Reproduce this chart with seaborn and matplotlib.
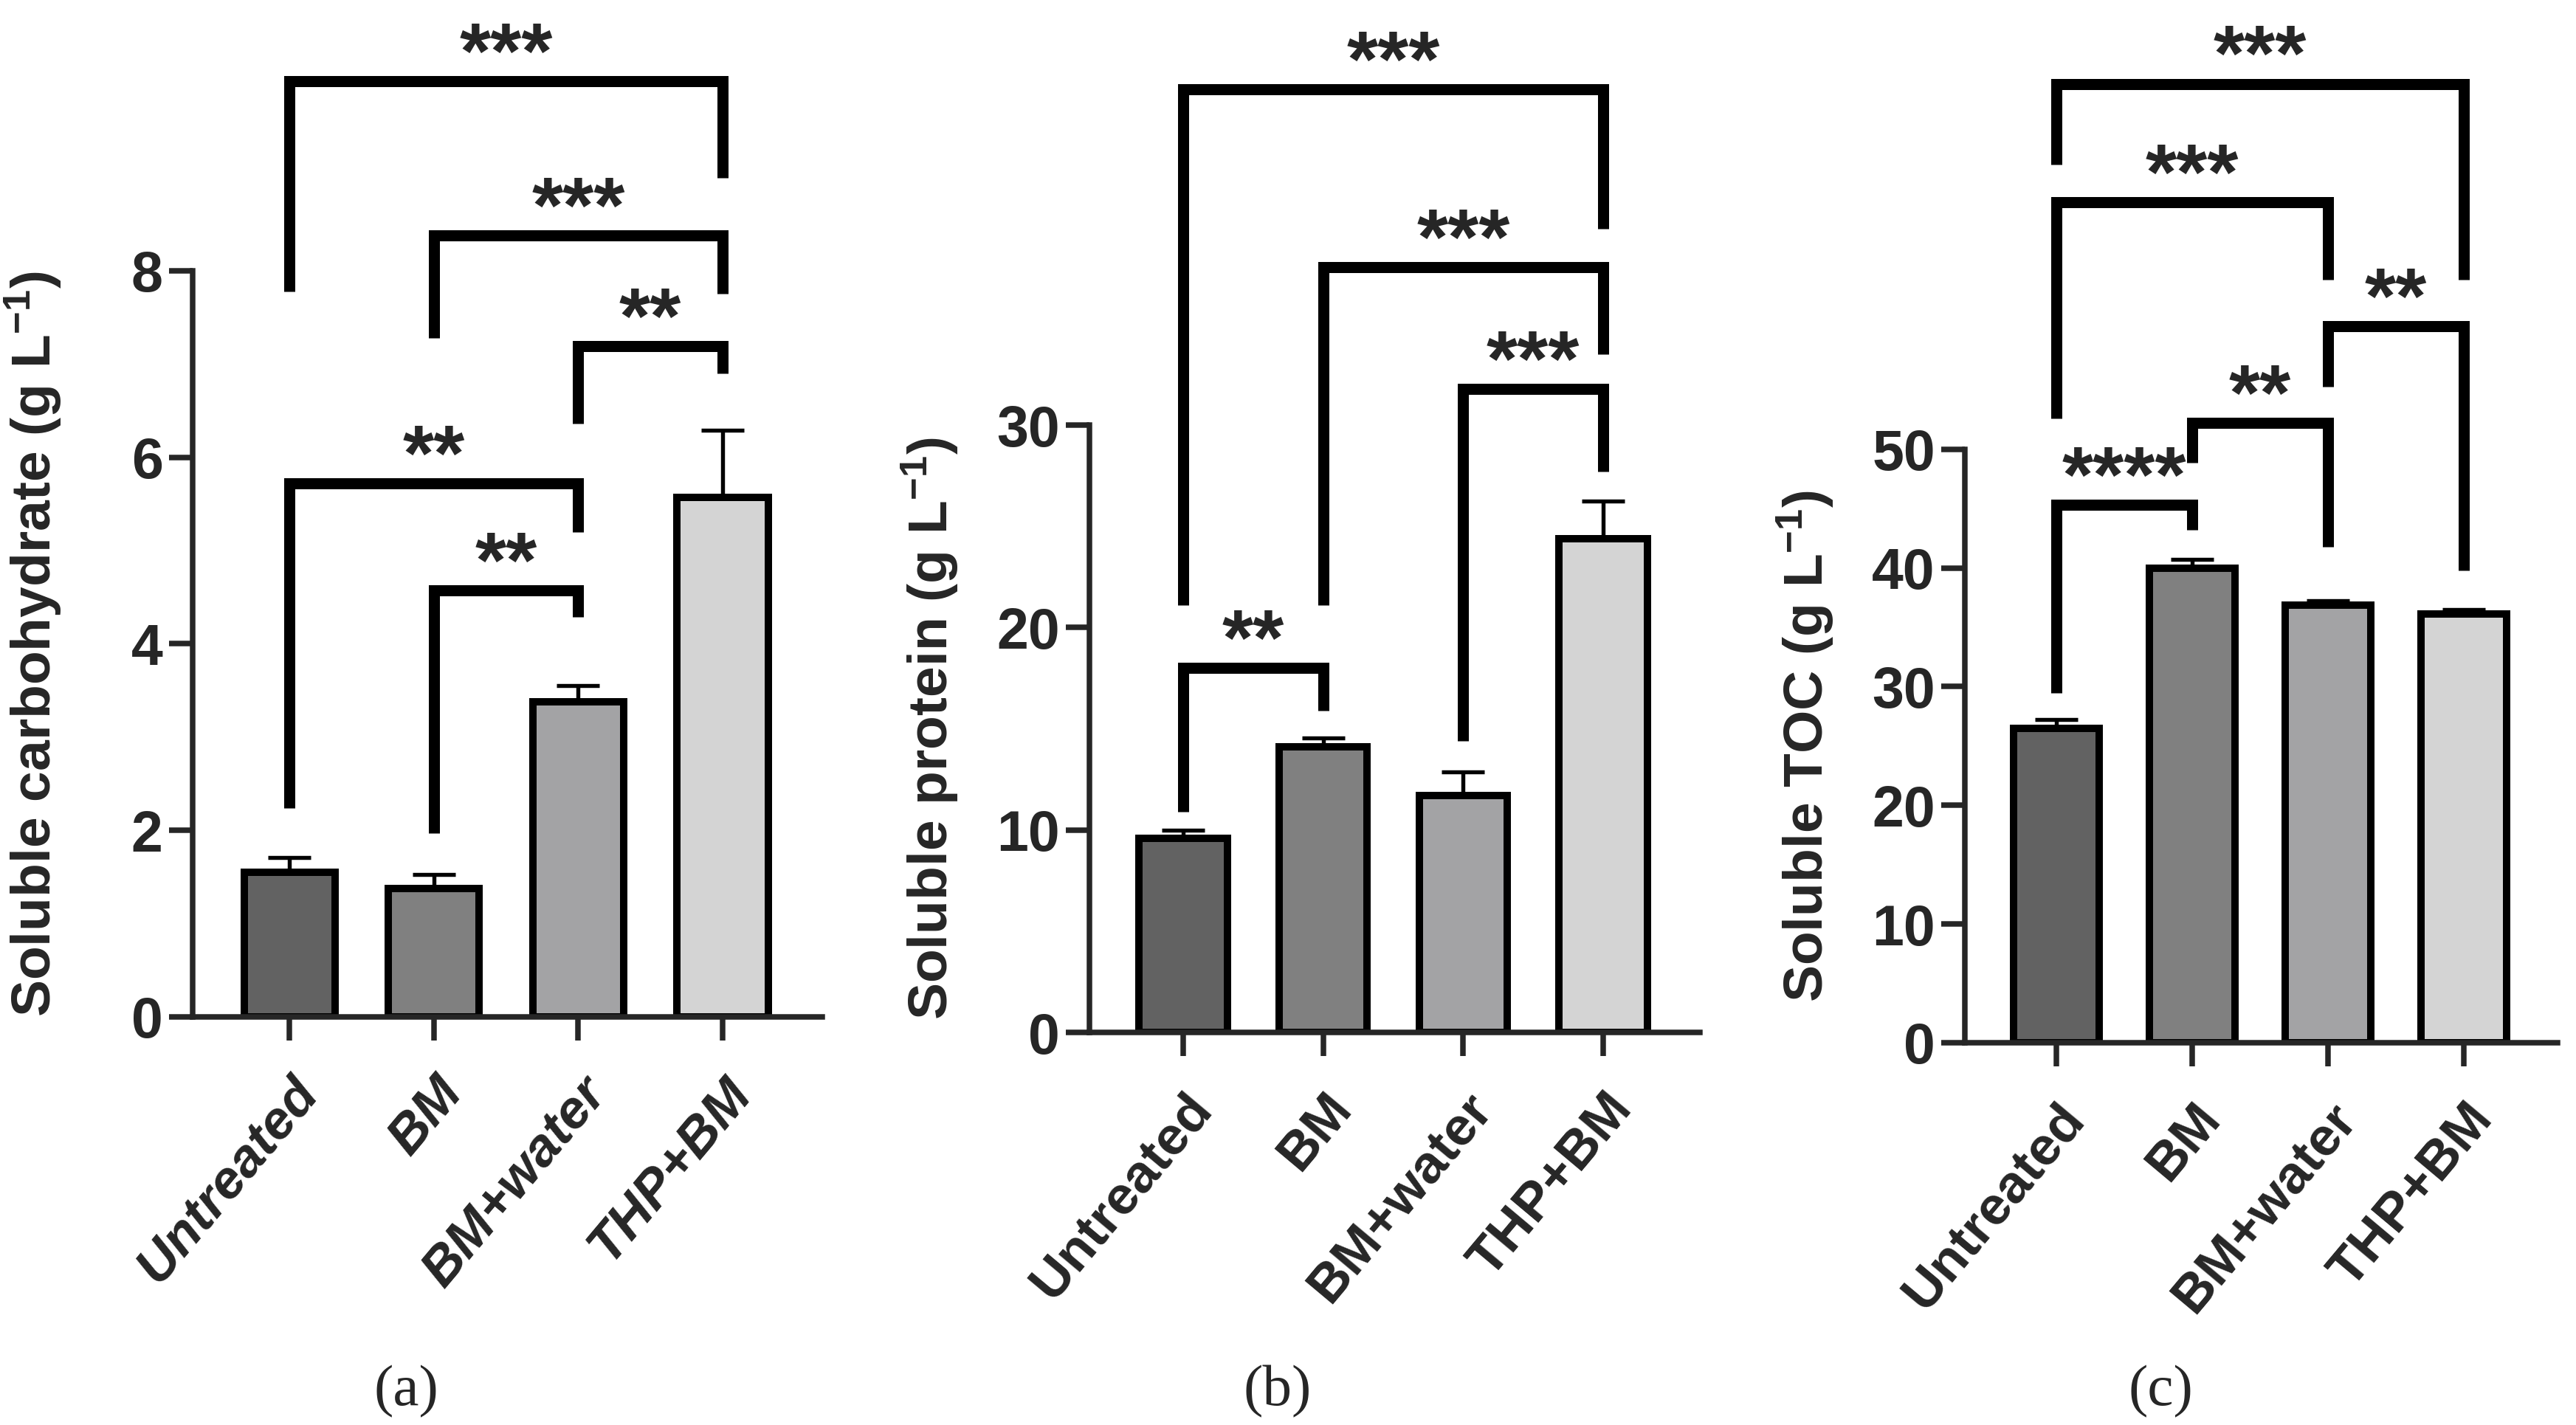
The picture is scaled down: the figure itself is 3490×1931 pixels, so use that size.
import matplotlib
matplotlib.use("Agg")
import matplotlib.pyplot as plt
import numpy as np
import pandas as pd
import seaborn as sns

groups = ['Untreated', 'BM', 'BM+water', 'THP+BM']
bar_colors = ['#626262', '#808080', '#a2a2a6', '#d4d4d4']

carb_mean = [1.55, 1.38, 3.38, 5.57]
carb_sd = [0.16, 0.15, 0.17, 0.72]
protein_mean = [9.6, 14.1, 11.7, 24.4]
protein_sd = [0.4, 0.45, 1.15, 1.85]
toc_mean = [26.5, 40.0, 36.9, 36.1]
toc_sd = [0.75, 0.75, 0.35, 0.4]

# significance brackets: (left group, right group, bracket top, left leg end, right leg end, stars)
carb_sig = [
    (0, 3, 10.03, 7.78, 9.0, '***'),
    (1, 3, 8.38, 7.28, 7.75, '***'),
    (2, 3, 7.19, 6.36, 6.9, '**'),
    (0, 2, 5.72, 2.24, 5.2, '**'),
    (1, 2, 4.57, 1.97, 4.29, '**'),
]
protein_sig = [
    (0, 3, 46.6, 21.1, 39.7, '***'),
    (1, 3, 37.8, 21.1, 33.5, '***'),
    (2, 3, 31.8, 14.4, 27.7, '***'),
    (0, 1, 18.0, 10.9, 15.9, '**'),
]
toc_sig = [
    (0, 3, 80.8, 74.0, 64.3, '***'),
    (0, 2, 70.8, 52.6, 64.3, '***'),
    (2, 3, 60.4, 55.3, 39.8, '**'),
    (1, 2, 52.2, 48.9, 41.8, '**'),
    (0, 1, 45.3, 29.5, 43.2, '****'),
]

sns.set_style("ticks")
plt.rcParams['font.family'] = ['Liberation Sans', 'DejaVu Sans']
plt.rcParams['mathtext.fontset'] = 'custom'
plt.rcParams['mathtext.rm'] = 'Liberation Sans:bold'
plt.rcParams['mathtext.bf'] = 'Liberation Sans:bold'
plt.rcParams['mathtext.default'] = 'bf'

W, H = 3490, 1931
fig = plt.figure(figsize=(W / 300, H / 300), dpi=300)


def draw_panel(pos, means, sds, sig, ylabel, ymax, ystep, italic, letter, letter_x):
    ax = fig.add_axes(pos)
    df = pd.DataFrame({'group': groups, 'value': means})
    sns.barplot(data=df, x='group', y='value', hue='group', palette=bar_colors,
                width=0.63, edgecolor='black', linewidth=2.4, errorbar=None,
                legend=False, ax=ax)
    n = len(groups)
    ax.errorbar(np.arange(n), means, yerr=[np.zeros(n), sds], fmt='none',
                ecolor='black', elinewidth=1.3, capsize=7, capthick=1.3, zorder=0.5)

    for i, j, top, left_end, right_end, stars in sig:
        ax.plot([i, i, j, j], [left_end, top, top, right_end], color='black', lw=3.6,
                clip_on=False, solid_joinstyle='miter', solid_capstyle='butt')
        ax.annotate(stars, xy=((i + j) / 2, top), xytext=(0, 1), textcoords='offset points',
                    ha='center', va='baseline', fontsize=26, fontweight='bold',
                    annotation_clip=False)

    ax.set_xlim(-0.67, 3.69)
    ax.set_ylim(0, ymax)
    ax.set_yticks(np.arange(0, ymax + 1e-9, ystep))
    sns.despine(ax=ax)
    for s in ['left', 'bottom']:
        ax.spines[s].set_linewidth(1.8)
    ax.tick_params(axis='both', length=7.7, width=1.8)
    ax.tick_params(axis='y', labelsize=18.5, pad=2)
    ax.tick_params(axis='x', pad=9)
    for t in ax.get_yticklabels():
        t.set_fontweight('bold')
    ax.set_xticks(range(n))
    ax.set_xticklabels(groups, rotation=50, ha='right', rotation_mode='anchor',
                       fontstyle='italic' if italic else 'normal', fontweight='bold', fontsize=17.5)
    ax.set_xlabel('')
    ax.set_ylabel(ylabel, fontsize=18, fontweight='bold')
    ax.yaxis.set_label_coords(-175 / (pos[2] * W), 0.5)
    fig.text(letter_x, 0.0233, letter, family='Liberation Serif', fontsize=19,
             ha='center', va='center')
    return ax


draw_panel([0.0748, 0.2864, 0.2444, 0.5236], carb_mean, carb_sd, carb_sig,
           r'Soluble carbohydrate (g L$^{-1}$)', 8, 2, True, '(a)', 0.1576)
draw_panel([0.4229, 0.2755, 0.2370, 0.4262], protein_mean, protein_sd, protein_sig,
           r'Soluble protein (g L$^{-1}$)', 30, 10, False, '(b)', 0.496)
draw_panel([0.7628, 0.2683, 0.2300, 0.4164], toc_mean, toc_sd, toc_sig,
           r'Soluble TOC (g L$^{-1}$)', 50, 10, False, '(c)', 0.8387)

fig.savefig('out.png', dpi=300)
